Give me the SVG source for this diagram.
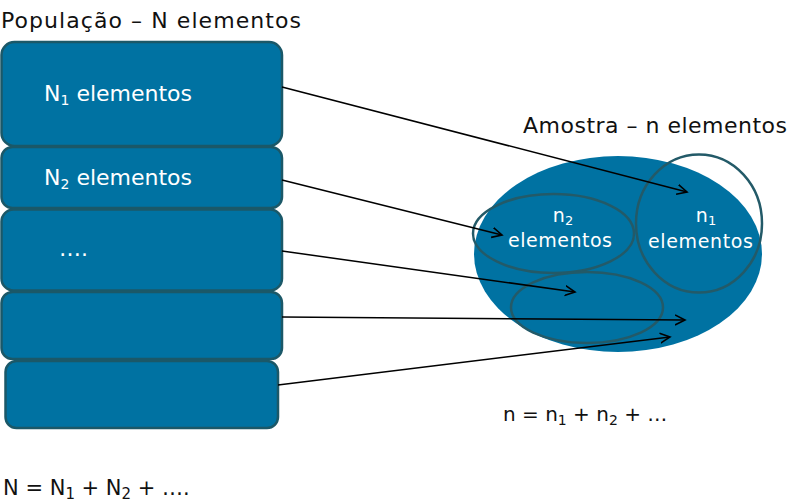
<svg xmlns="http://www.w3.org/2000/svg" width="791" height="502" viewBox="0 0 791 502">
<style>
.box{fill:#0072A2;stroke:#1B5868;stroke-width:2.5}
.ell{fill:none;stroke:#235A68;stroke-width:2.5}
.t{font-family:"DejaVu Sans",Verdana,sans-serif;fill:#111}
.w{font-family:"DejaVu Sans",Verdana,sans-serif;fill:#fff}
.c{stroke:#000;stroke-width:1.5;fill:none;marker-end:url(#a)}
</style>
<defs>
<marker id="a" markerWidth="12" markerHeight="12" refX="10" refY="5" orient="auto" markerUnits="userSpaceOnUse" viewBox="0 0 12 10">
<path d="M0,0 L10,5 L0,10" fill="none" stroke="#000" stroke-width="1.6"/>
</marker>
</defs>
<rect width="791" height="502" fill="#fff"/>
<text class="t" x="1" y="28" font-size="22" textLength="300">População  – N elementos</text>
<g id="box1"><rect class="box" x="1.5" y="42" width="280.5" height="104" rx="13"/>
<text class="w" x="44" y="101" font-size="22">N<tspan font-size="14" dy="4">1</tspan><tspan dy="-4"> elementos</tspan></text></g>
<g id="box2"><rect class="box" x="1.5" y="147" width="280.5" height="61" rx="11"/>
<text class="w" x="44" y="185" font-size="22">N<tspan font-size="14" dy="4">2</tspan><tspan dy="-4"> elementos</tspan></text></g>
<g id="box3"><rect class="box" x="1.5" y="209.5" width="280.5" height="81" rx="12"/>
<text class="w" x="59" y="256" font-size="22">….</text></g>
<g id="box4"><rect class="box" x="1.5" y="292" width="280.5" height="67" rx="11"/></g>
<g id="box5"><rect class="box" x="5.5" y="361" width="272.5" height="67" rx="11"/></g>
<text class="t" x="3" y="495" font-size="21">N = N<tspan font-size="15" dy="4">1</tspan><tspan dy="-4"> + N</tspan><tspan font-size="15" dy="4">2</tspan><tspan dy="-4"> + ….</tspan></text>
<text class="t" x="523" y="133" font-size="22" textLength="264">Amostra  – n elementos</text>
<g id="sample">
<ellipse cx="618" cy="254" rx="144" ry="98" fill="#0072A2"/>
<ellipse class="ell" cx="699" cy="223.5" rx="63" ry="69"/>
<ellipse class="ell" cx="553.5" cy="233.5" rx="80.5" ry="39.5"/>
<ellipse class="ell" cx="587" cy="307.5" rx="76" ry="35.5"/>
<text class="w" x="563" y="222" font-size="19" text-anchor="middle">n<tspan font-size="13" dy="3">2</tspan></text>
<text class="w" x="508" y="247" font-size="19" textLength="104">elementos</text>
<text class="w" x="706" y="222" font-size="19" text-anchor="middle">n<tspan font-size="13" dy="3">1</tspan></text>
<text class="w" x="648" y="248" font-size="19" textLength="105">elementos</text>
</g>
<text class="t" x="503" y="421" font-size="20">n = n<tspan font-size="14" dy="4">1</tspan><tspan dy="-4"> + n</tspan><tspan font-size="14" dy="4">2</tspan><tspan dy="-4"> + …</tspan></text>
<g id="connectors">
<line class="c" x1="282" y1="87" x2="687" y2="192"/>
<line class="c" x1="282" y1="180" x2="502" y2="235"/>
<line class="c" x1="282" y1="251" x2="575" y2="292"/>
<line class="c" x1="282" y1="317" x2="685" y2="320"/>
<line class="c" x1="278" y1="385" x2="670" y2="337"/>
</g>
</svg>
